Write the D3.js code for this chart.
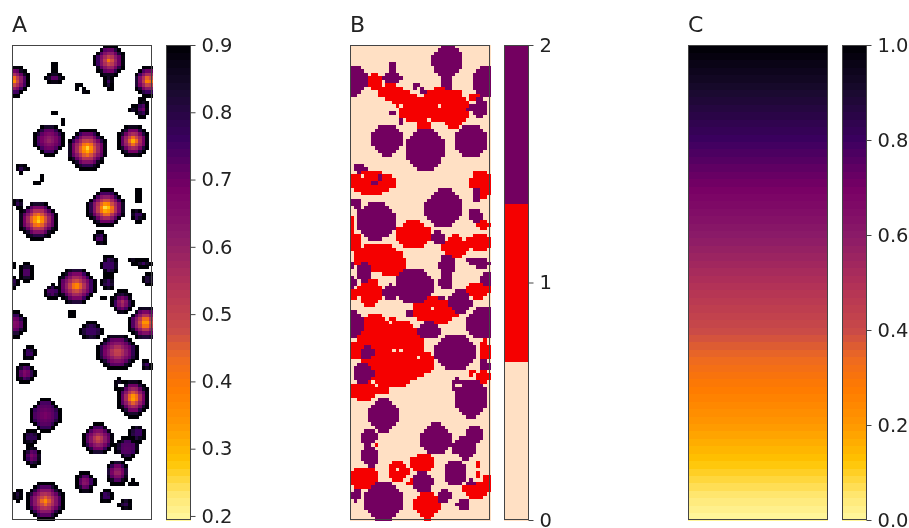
<!DOCTYPE html>
<html><head><meta charset="utf-8">
<script src="https://cdn.jsdelivr.net/npm/d3@7/dist/d3.min.js"></script>
<style>html,body{margin:0;background:#fff}svg{display:block;filter:blur(.4px)}text{font-family:"DejaVu Sans";fill:#222}</style>
</head><body><svg id="c" width="909" height="528"></svg>
<script>
const titles = ["A","B","C"];
const ticksA = [0.2,0.3,0.4,0.5,0.6,0.7,0.8,0.9];
const ticksB = [0,1,2];
const ticksC = [0,0.2,0.4,0.6,0.8,1];
const domainA = [0.194,0.9];
const domainB = [0,2];
const domainC = [0,1];
const gridCols = 40, gridRows = 136, fieldW = 140, fieldH = 475;
const cmapFrac = [0,0.05,0.125,0.2,0.28,0.34,0.4,0.5,0.6,0.7,0.8,0.9,1];
const cmapCol = ["#fff7a0","#ffe875","#ffc400","#ff9800","#ff7a00","#ee6a20","#c94a48","#b03058","#8a1a68","#780065","#3c0060","#1a0a30","#000005"];
const classColors = ["#ffe0c4","#f50000","#730060"];
// field units: x, y, radius x, radius y, value at blob centre
const blobs = [
[97,16,15.5,16.5,.38],[97,37,5,9,.72],[1,36,16,15.5,.32],[42,24,4,6,.74],[42,33,10,6,.68],
[66,41,3.5,3.5,.8],[72,46,3.5,3.5,.8],[136,36,15,15.5,.33],[130,64,7,10,.66],[122,64,5,4,.72],
[43,68,4,2,.88],[50,77,2.5,4,.88],[37,95,15.5,16,.58],[75,104,20,20.5,.23],[121,96,16,16.5,.3],
[9,123,7,5,.76],[30,132,3,3,.88],[25,139,3,2,.88],[126,150,4,6,.8],[94,163,19,19,.2],
[26,175,20,19,.22],[6,158,6,6,.78],[125,170,7,7,.76],[88,193,7,7,.74],[97,220,9,10,.76],
[96,238,7,8,.76],[121,216,4,4.5,.8],[131,218,9,5,.76],[1,221,3,3,.88],[14,227,7,10,.74],
[1,237,5,7,.74],[64,241,19,19,.32],[40,247,8,8,.74],[136,234,6,6,.78],[91,252,4,2,.88],
[110,258,11,12,.52],[133,278,17,17,.28],[60,269,3.5,3.5,.88],[3,279,11,13,.62],[79,286,12,9,.76],
[105,307,20,18,.45],[17,308,7,7,.76],[13,328,10,10,.64],[134,320,6,6,.76],[121,353,16,19,.28],
[106,339,6,6,.84],[33,370,15,17,.68],[19,392,9,8,.78],[20,411,9,11,.66],[86,394,16,16,.45],
[125,388,8,9,.76],[115,403,12,11,.72],[105,427,12,13,.55],[73,437,10,11,.58],[121,437,4,4,.88],
[94,451,7.5,7,.76],[113,459,6.5,6.5,.78],[33,456,19,19,.35],[6,450,5,7,.78]];
const blobHoles = [[108,340],[111,340]];
// field units: x, y, radius x, radius y
const redPatches = [
[25,36,8,8],[40,47,13,8],[55,56,14,9],[67,67,19,11],[92,60,22,18],[103,64,16,19],[75,80,7,6],[125,52,8,3],
[22,137,23,13],[131,138,12,14],[2,180,3,8],[5,198,7,10],[28,213,24,15],[40,219,15,12],
[63,190,18,14],[105,202,13,12],[130,197,13,9],[134,180,7,4],[128,245,12,9],[20,247,12,14],
[3,250,6,6],[85,266,22,15],[43,275,3.5,3.5],[24,287,18,18],[50,297,22,20],[42,322,30,20],
[65,318,20,14],[13,346,15,10],[32,345,8,6],[5,305,8,9],[22,308,16,8],[134,306,6,11],[122,328,3,3],[133,333,6,7],
[48,426,11,10],[72,418,12,10],[14,433,15,12],[61,437,3.5,3.5],[77,460,13,14],[126,444,15,9],
[137,435,5,6],[127,419,2.5,2.5],[127,430,2.5,2.5],[27,401,1.5,1.5]];
const redHoles = [[50,60],[90,62],[12,130],[33,127],[37,268],[82,263],[44,306],[50,304],[68,312],[48,426]];

const svg = d3.select("#c");
const panelX = [12,350,688], barX = [166,504,842], top0 = 45, bot0 = 520, panelW = 140, barW = 25;
const cmap = d3.scaleLinear().domain(cmapFrac).range(cmapCol).interpolate(d3.interpolateRgb).clamp(true);
const toCol = d3.scaleLinear().domain([0,fieldW]).range([0,gridCols]);
const toRow = d3.scaleLinear().domain([0,fieldH]).range([0,gridRows]);

function octa(p,x,y){
  const nx = Math.abs((x-p[0])/p[2]), ny = Math.abs((y-p[1])/p[3]);
  return Math.max(nx,ny,(nx+ny)/1.35);
}
function blobValue(b,d){
  const rmin = Math.min(b[2],b[3]);
  const rim = (1-d)*rmin;
  const peak = b[4], inner = Math.max(peak,0.74);
  if (rim<2) return 0.9;
  if (rim<4.5) return 0.9-(0.9-inner)*((rim-2)/2.5);
  const rest = rmin-4.5;
  return rest>0 ? inner-(inner-peak)*((rim-4.5)/rest) : inner;
}
const cells = [];
for (const r of d3.range(gridRows)) for (const c of d3.range(gridCols)) {
  const x = toCol.invert(c+.5), y = toRow.invert(r+.5);
  let v = null;
  for (const b of blobs) { const d = octa(b,x,y); if (d<=1) { const u = blobValue(b,d); v = v==null?u:Math.min(v,u);} }
  if (blobHoles.some(h=>Math.abs(h[0]-x)<=1.75&&Math.abs(h[1]-y)<=1.75)) v = null;
  const red = redPatches.some(p=>octa(p,x,y)<=1) && !redHoles.some(h=>Math.abs(h[0]-x)<=1.75&&Math.abs(h[1]-y)<=1.75);
  cells.push({r,c,v,k: v!=null?2:red?1:0});
}
function frame(x,w){svg.append("rect").attr("x",x+.5).attr("y",top0+.5).attr("width",w-1).attr("height",bot0-top0-1).attr("fill","none").attr("stroke","#444").attr("stroke-width",1);}
function heat(i,data,fill){
  const xs = d3.scaleBand().domain(d3.range(gridCols)).range([panelX[i],panelX[i]+panelW]);
  const ys = d3.scaleBand().domain(d3.range(gridRows)).range([top0,bot0]);
  svg.append("g").attr("shape-rendering","crispEdges").selectAll("rect").data(data).join("rect")
    .attr("x",d=>xs(d.c)).attr("y",d=>ys(d.r)).attr("width",xs.bandwidth()+.5).attr("height",ys.bandwidth()+.5).attr("fill",fill);
}
const normA = d3.scaleLinear().domain(domainA).range([0,1]);
heat(0,cells.filter(d=>d.v!=null),d=>cmap(normA(d.v)));
heat(1,cells,d=>classColors[d.k]);
// panel C: one row per level
const levels = d3.range(64);
const ysC = d3.scaleBand().domain(levels).range([bot0,top0]);
svg.append("g").attr("shape-rendering","crispEdges").selectAll("rect").data(levels).join("rect")
  .attr("x",panelX[2]).attr("width",panelW).attr("y",d=>ysC(d)).attr("height",ysC.bandwidth()+.5).attr("fill",d=>cmap((d+.5)/64));
panelX.forEach(x=>frame(x,panelW));
titles.forEach((t,i)=>svg.append("text").attr("x",panelX[i]).attr("y",32).attr("font-size",22).text(t));
// colorbars
function bar(i,domain,ticks,fmt,fill,n){
  const y = d3.scaleLinear().domain(domain).range([bot0,top0]);
  const lv = d3.range(n);
  const band = d3.scaleBand().domain(lv).range([bot0,top0]);
  svg.append("g").attr("shape-rendering","crispEdges").selectAll("rect").data(lv).join("rect")
    .attr("x",barX[i]).attr("width",barW).attr("y",d=>band(d)).attr("height",band.bandwidth()+.5).attr("fill",d=>fill((d+.5)/n));
  frame(barX[i],barW);
  const ax = d3.axisRight(y).tickValues(ticks).tickFormat(fmt).tickSize(5).tickPadding(6);
  const g = svg.append("g").attr("transform",`translate(${barX[i]+barW-.5},0)`).call(ax);
  g.select(".domain").remove();
  g.selectAll("line").attr("stroke","#444");
  g.selectAll("text").attr("font-size",19.5).attr("font-family","DejaVu Sans").attr("fill","#222");
}
bar(0,domainA,ticksA,d3.format(".1f"),cmap,64);
bar(1,domainB,ticksB,d3.format("d"),f=>classColors[Math.min(2,Math.floor(f*3))],3);
bar(2,domainC,ticksC,d3.format(".1f"),cmap,64);
</script></body></html>
